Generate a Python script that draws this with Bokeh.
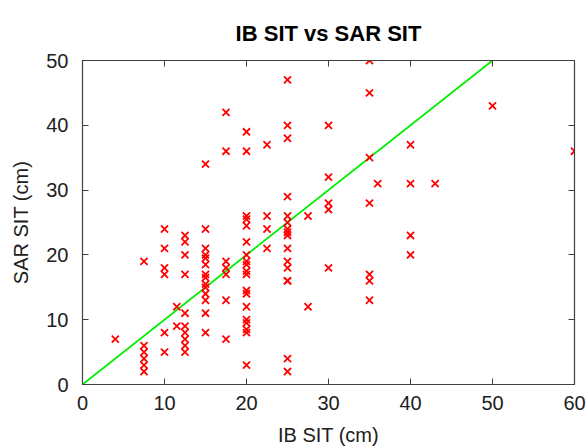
from bokeh.plotting import figure
from bokeh.models import LinearAxis, Range1d, FixedTicker, ColumnDataSource
from bokeh.embed import file_html
from bokeh.resources import INLINE

ib_sit = [4,
          7.5, 7.5, 7.5, 7.5, 7.5, 7.5,
          10, 10, 10, 10, 10, 10,
          11.5, 11.5,
          12.5, 12.5, 12.5, 12.5, 12.5, 12.5, 12.5, 12.5, 12.5, 12.5,
          15, 15, 15, 15, 15, 15, 15, 15, 15, 15, 15, 15, 15, 15,
          17.5, 17.5, 17.5, 17.5, 17.5, 17.5, 17.5,
          20, 20, 20, 20, 20, 20, 20, 20, 20, 20, 20, 20, 20, 20, 20, 20, 20, 20, 20,
          22.5, 22.5, 22.5, 22.5,
          25, 25, 25, 25, 25, 25, 25, 25, 25, 25, 25, 25, 25, 25, 25, 25,
          27.5, 27.5,
          30, 30, 30, 30, 30,
          35, 35, 35, 35, 35, 35, 35,
          36,
          40, 40, 40, 40,
          43, 50, 60]
sar_sit = [7,
           19, 6, 5, 4, 3, 2,
           24, 21, 18, 17, 8, 5,
           12, 9,
           23, 22, 20, 17, 11, 9, 8, 7, 6, 5,
           34, 24, 21, 20, 19.5, 18.5, 17, 16.5, 15.5, 15, 14, 13, 11, 8,
           42, 36, 19, 18, 17, 13, 7,
           39, 36, 26, 25.5, 24.5, 22, 20, 19, 18.5, 17.5, 17, 14.5, 14, 12, 10, 9.5, 8.5, 8, 3,
           37, 26, 24, 21,
           47, 40, 38, 29, 26, 25, 24, 23.5, 23, 21, 19, 18, 16, 16, 4, 2,
           26, 12,
           40, 32, 28, 27, 18,
           50, 45, 35, 28, 17, 16, 13,
           31,
           37, 31, 23, 20,
           31, 43, 36]
line_x = [0, 50]
line_y = [0, 50]
x_ticks = [0, 10, 20, 30, 40, 50, 60]
y_ticks = [0, 10, 20, 30, 40, 50]
title_text = "IB SIT vs SAR SIT"

FONT = "Liberation Sans"

p = figure(width=588, height=448, output_backend="svg", toolbar_location=None,
           x_range=Range1d(0, 60), y_range=Range1d(0, 50),
           min_border_left=82, min_border_right=14, min_border_top=60, min_border_bottom=63,
           x_axis_location=None, y_axis_location=None)
p.title.text = title_text
p.title.align = "center"
p.title.text_font = FONT
p.title.text_font_size = "22px"
p.title.text_font_style = "bold"
p.title.text_color = "#000000"
p.title.offset = 0
p.title.standoff = 29

p.xgrid.visible = False
p.ygrid.visible = False
p.outline_line_color = "#404040"
p.outline_line_width = 1.2

def style_axis(ax, labels=True):
    ax.axis_line_color = "#404040"
    ax.major_tick_line_color = "#404040"
    ax.major_tick_in = 6
    ax.major_tick_out = 0
    ax.minor_tick_line_color = None
    ax.major_label_text_font = FONT
    ax.major_label_text_font_size = "20px" if labels else "0px"
    ax.major_label_text_color = "#202020" if labels else None
    ax.axis_label_text_font = FONT
    ax.axis_label_text_font_size = "20px"
    ax.axis_label_text_font_style = "normal"
    ax.axis_label_text_color = "#202020"
    if not labels:
        ax.major_label_standoff = 0

bx = LinearAxis(ticker=FixedTicker(ticks=x_ticks), axis_label="IB SIT (cm)")
style_axis(bx)
bx.major_label_standoff = 11
bx.axis_label_standoff = 11
p.add_layout(bx, "below")

ly = LinearAxis(ticker=FixedTicker(ticks=y_ticks), axis_label="SAR SIT (cm)")
style_axis(ly)
ly.major_label_standoff = 14
ly.axis_label_standoff = 11
p.add_layout(ly, "left")

tx = LinearAxis(ticker=FixedTicker(ticks=x_ticks))
style_axis(tx, labels=False)
p.add_layout(tx, "above")
ry = LinearAxis(ticker=FixedTicker(ticks=y_ticks))
style_axis(ry, labels=False)
p.add_layout(ry, "right")

p.line(line_x, line_y, line_color="#00ee00", line_width=1.8)
src = ColumnDataSource(dict(x=ib_sit, y=sar_sit))
p.scatter("x", "y", source=src, marker="x", size=10, line_color="#ff0000", line_width=1.8)

open("out.html", "w").write(file_html(p, INLINE))
